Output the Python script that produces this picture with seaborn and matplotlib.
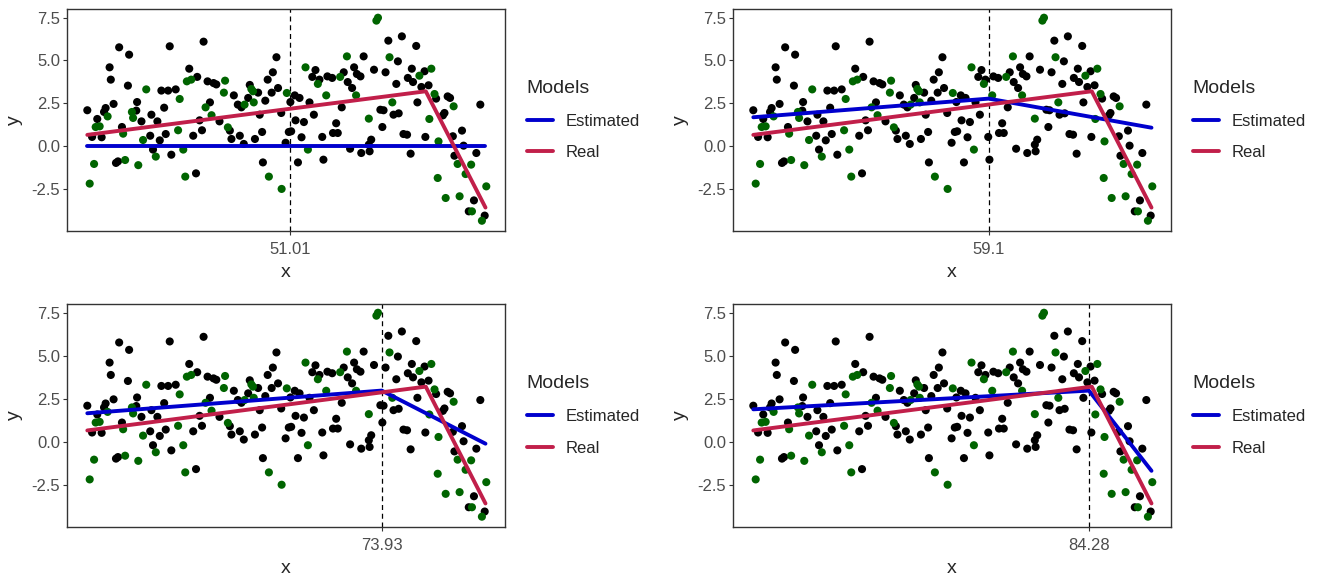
import numpy as np
import pandas as pd
import matplotlib
matplotlib.use("Agg")
import matplotlib.pyplot as plt
import seaborn as sns

# Observed points, split by colour group
black_x = [0.0, 1.2, 2.5, 3.6, 4.2, 4.6, 5.6, 5.9, 6.6, 7.2, 7.7, 8.0, 8.7, 10.2, 10.5,
           12.3, 12.5, 13.6, 15.8, 16.1, 16.5, 17.6, 18.2, 18.6, 19.3, 19.7, 20.3, 20.7,
           21.1, 22.2, 25.6, 26.6, 27.3, 27.6, 28.2, 28.8, 29.2, 30.2, 30.8, 31.7, 32.4,
           33.2, 35.8, 36.2, 36.8, 37.8, 38.3, 38.7, 39.3, 40.4, 40.8, 42.1, 42.9, 43.3,
           43.9, 44.1, 44.7, 45.3, 46.3, 46.6, 47.5, 47.9, 48.7, 49.8, 50.6, 51.0, 51.2,
           52.1, 52.3, 52.9, 53.3, 53.8, 54.4, 55.8, 56.5, 56.9, 57.3, 58.3, 59.0, 59.3,
           60.3, 61.5, 61.7, 62.5, 62.9, 63.9, 64.4, 65.4, 66.0, 66.5, 67.0, 67.7, 68.6,
           68.8, 69.4, 70.7, 70.9, 71.3, 72.0, 73.6, 74.1, 74.4, 74.9, 75.6, 76.9, 77.6,
           78.0, 78.2, 79.0, 79.4, 80.3, 80.5, 81.2, 81.5, 81.8, 82.6, 82.9, 83.9, 84.7,
           84.9, 85.7, 87.6, 89.3, 89.7, 90.5, 91.1, 91.8, 92.2, 94.1, 94.5, 95.8, 97.1,
           97.7, 98.7, 99.8]
black_y = [2.09, 0.53, 1.58, 0.51, 1.99, 2.22, 4.60, 3.88, 2.46, -0.99, -0.90, 5.77, 1.11,
           3.53, 5.34, 2.07, 2.57, 1.44, 0.60, 1.83, -0.21, 1.44, 0.33, 3.24, 2.24, 0.70,
           3.24, 5.83, -0.51, 3.31, 4.52, 0.60, -1.60, 4.04, 1.50, 0.92, 6.10, 3.78, 2.55,
           3.68, 3.60, 1.44, 0.90, 0.41, 2.96, 2.42, 0.60, 2.26, 0.12, 2.81, 3.57, 0.41,
           3.12, 1.83, 0.82, -0.96, 2.65, 3.88, 3.12, 4.31, 5.19, 3.39, 1.93, 0.19, 0.82,
           2.57, 0.86, 2.96, 1.50, -0.96, 2.81, 0.51, 1.40, 2.55, 4.04, 1.83, 4.44, 3.88,
           0.53, -0.80, 4.07, 3.98, 0.76, 1.33, 0.76, 2.26, 4.31, 3.74, -0.16, 3.39, 4.60,
           4.21, 4.07, -0.41, 5.24, 0.08, -0.31, 0.37, 4.46, 2.12, 1.11, 2.09, 4.31, 6.16,
           1.83, 3.63, 4.95, 1.91, 6.41, 0.70, 0.66, 3.98, -0.45, 4.52, 3.74, 5.85, 2.55,
           3.45, 4.37, 0.53, 3.55, 2.77, 1.79, 1.93, 2.90, 2.81, 0.57, -0.57, 0.90, 0.02,
           -3.82, -3.18, -0.41, 2.42, -4.07]
green_x = [0.6, 1.7, 2.1, 3.1, 5.1, 9.0, 9.5, 11.2, 11.5, 12.8, 14.0, 14.8, 17.2, 22.8,
           23.2, 24.1, 24.6, 25.0, 26.1, 29.7, 31.2, 34.3, 34.6, 35.3, 39.5, 41.2, 41.6,
           41.8, 45.6, 48.8, 50.1, 54.8, 55.4, 57.9, 60.0, 63.5, 65.2, 67.5, 70.7, 72.6,
           73.0, 75.9, 76.6, 83.4, 85.9, 86.4, 87.2, 88.0, 88.2, 90.0, 92.0, 93.0, 93.5,
           95.0, 96.4, 96.6, 99.1, 100.2]
green_y = [-2.20, -1.05, 1.11, 1.15, 1.73, 0.72, -0.82, 1.99, 1.64, -1.12, 0.35, 3.31,
           -0.62, 0.92, 2.75, -0.21, -1.79, 3.78, 3.88, 2.26, 1.80, 3.12, 3.82, 1.09, 2.42,
           3.33, 3.20, 2.55, -1.79, -2.51, 3.10, 4.60, -0.21, 3.63, 2.96, 4.04, 5.24, 2.96,
           1.60, 7.33, 7.50, 5.19, 2.55, 4.11, 1.58, 4.52, 3.04, -1.87, 0.27, -3.04, 2.32,
           -1.05, -2.94, -1.64, -1.09, -3.82, -4.37, -2.36]

# True segmented model
real_x = [0.0, 85.0, 100.0]
real_y = [0.65, 3.2, -3.6]

# Estimated segmented fits, one per iteration
breakpoints = [51.01, 59.1, 73.93, 84.28]
break_labels = ["51.01", "59.1", "73.93", "84.28"]
est_start = [0.0, 1.68, 1.65, 1.88]
est_break = [0.0, 2.77, 2.97, 2.97]
est_end = [0.0, 1.07, -0.12, -1.70]

y_ticks = [-2.5, 0.0, 2.5, 5.0, 7.5]
y_tick_labels = ["-2.5", "0.0", "2.5", "5.0", "7.5"]

sns.set_style("white")
plt.rcParams["font.family"] = ["Liberation Sans", "DejaVu Sans"]

points = pd.concat([
    pd.DataFrame({"x": black_x, "y": black_y, "kind": "black"}),
    pd.DataFrame({"x": green_x, "y": green_y, "kind": "green"}),
], ignore_index=True)

W, H = 1329, 581
fig = plt.figure(figsize=(W / 100, H / 100), dpi=100)

# axes boxes in pixels: (left, top, right, bottom)
boxes = [(67, 9, 505, 231), (733, 9, 1171, 231),
         (67, 304, 505, 527), (733, 304, 1171, 527)]

palette_pts = {"black": "black", "green": "#006400"}
palette_lines = {"Estimated": "#0000CD", "Real": "#C11F4A"}
grey_dark = "#333333"
grey_text = "#4D4D4D"

for i, (l, t, r, b) in enumerate(boxes):
    ax = fig.add_axes([l / W, 1 - b / H, (r - l) / W, (b - t) / H])
    bp = breakpoints[i]
    lines = pd.concat([
        pd.DataFrame({"x": [0.0, bp, 100.0],
                      "y": [est_start[i], est_break[i], est_end[i]],
                      "Models": "Estimated"}),
        pd.DataFrame({"x": real_x, "y": real_y, "Models": "Real"}),
    ], ignore_index=True)

    sns.scatterplot(data=points, x="x", y="y", hue="kind", palette=palette_pts,
                    s=34, linewidth=0, legend=False, ax=ax, zorder=2)
    sns.lineplot(data=lines, x="x", y="y", hue="Models",
                 hue_order=["Estimated", "Real"], palette=palette_lines,
                 linewidth=2.8, estimator=None, sort=True, ax=ax, zorder=3)
    ax.axvline(bp, color="black", linestyle=(0, (4, 3)), linewidth=0.9, zorder=1)

    ax.set_xlim(-5.1, 104.9)
    ax.set_ylim(-4.97, 8.01)
    ax.set_xticks([bp])
    ax.set_xticklabels([break_labels[i]])
    ax.set_yticks(y_ticks)
    ax.set_yticklabels(y_tick_labels)
    ax.tick_params(axis="both", length=3, width=0.8, color=grey_dark,
                   labelcolor=grey_text, labelsize=12, direction="out",
                   bottom=True, left=True)
    ax.tick_params(axis="x", pad=5)
    ax.tick_params(axis="y", pad=2)
    for sp in ax.spines.values():
        sp.set_color(grey_dark)
        sp.set_linewidth(1.0)
    ax.set_xlabel("x", fontsize=14, labelpad=5)
    ax.set_ylabel("y", fontsize=14, labelpad=6)

    handles, labels = ax.get_legend_handles_labels()
    leg = ax.legend(handles, labels, title="Models", loc="center left",
                    bbox_to_anchor=(1.015, 0.5), frameon=False, fontsize=12,
                    title_fontsize=14, handlelength=1.6, handletextpad=0.75,
                    labelspacing=1.0, alignment="left")
    for ln in leg.get_lines():
        ln.set_linewidth(2.8)

fig.savefig("out.png", dpi=100)
